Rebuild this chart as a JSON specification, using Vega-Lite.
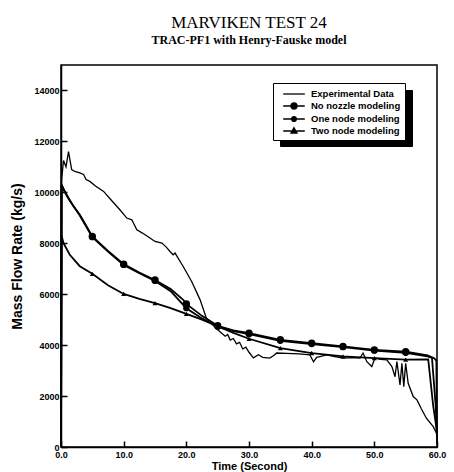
{
  "$schema": "https://vega.github.io/schema/vega-lite/v6.json",
  "autosize": {"type": "none"},
  "padding": {"left": 61, "top": 65, "right": 17, "bottom": 25},
  "width": 376,
  "height": 382,
  "background": "white",
  "config": {
    "view": {"stroke": "black", "strokeWidth": 1.5},
    "font": "Liberation Sans"
  },
  "title": {
    "text": "MARVIKEN TEST 24",
    "subtitle": "TRAC-PF1 with Henry-Fauske model",
    "anchor": "middle",
    "frame": "group",
    "font": "Liberation Serif",
    "fontSize": 17,
    "fontWeight": "normal",
    "color": "black",
    "subtitleFont": "Liberation Serif",
    "subtitleFontSize": 12,
    "subtitleFontWeight": "bold",
    "subtitleColor": "black",
    "subtitlePadding": 3,
    "offset": 18
  },
  "datasets": {
    "curves": [
      {"series": "Experimental Data", "t": 0, "v": 0},
      {"series": "Experimental Data", "t": 0.1, "v": 10500},
      {"series": "Experimental Data", "t": 0.4, "v": 11250},
      {"series": "Experimental Data", "t": 0.8, "v": 11000},
      {"series": "Experimental Data", "t": 1.2, "v": 11600},
      {"series": "Experimental Data", "t": 1.7, "v": 10890},
      {"series": "Experimental Data", "t": 2.2, "v": 10820},
      {"series": "Experimental Data", "t": 3.0, "v": 10760},
      {"series": "Experimental Data", "t": 3.6, "v": 10700},
      {"series": "Experimental Data", "t": 4.0, "v": 10500},
      {"series": "Experimental Data", "t": 4.6, "v": 10430},
      {"series": "Experimental Data", "t": 5.5, "v": 10250},
      {"series": "Experimental Data", "t": 6.8, "v": 10035},
      {"series": "Experimental Data", "t": 8.0, "v": 9700},
      {"series": "Experimental Data", "t": 9.4, "v": 9316},
      {"series": "Experimental Data", "t": 10.5, "v": 8990},
      {"series": "Experimental Data", "t": 11.3, "v": 8923},
      {"series": "Experimental Data", "t": 12.1, "v": 8530},
      {"series": "Experimental Data", "t": 13.0, "v": 8400},
      {"series": "Experimental Data", "t": 14.2, "v": 8204},
      {"series": "Experimental Data", "t": 15.0, "v": 8070},
      {"series": "Experimental Data", "t": 16.1, "v": 8007},
      {"series": "Experimental Data", "t": 16.8, "v": 7850},
      {"series": "Experimental Data", "t": 17.4, "v": 7677},
      {"series": "Experimental Data", "t": 17.9, "v": 7547},
      {"series": "Experimental Data", "t": 18.2, "v": 7613},
      {"series": "Experimental Data", "t": 19.5, "v": 7088},
      {"series": "Experimental Data", "t": 20.85, "v": 6498},
      {"series": "Experimental Data", "t": 22.2, "v": 5778},
      {"series": "Experimental Data", "t": 23.2, "v": 5059},
      {"series": "Experimental Data", "t": 24.0, "v": 4850},
      {"series": "Experimental Data", "t": 24.8, "v": 4650},
      {"series": "Experimental Data", "t": 25.5, "v": 4500},
      {"series": "Experimental Data", "t": 26.2, "v": 4350},
      {"series": "Experimental Data", "t": 26.6, "v": 4420},
      {"series": "Experimental Data", "t": 27.0, "v": 4200},
      {"series": "Experimental Data", "t": 27.5, "v": 4260},
      {"series": "Experimental Data", "t": 28.0, "v": 4050},
      {"series": "Experimental Data", "t": 28.5, "v": 4110},
      {"series": "Experimental Data", "t": 29.0, "v": 3850},
      {"series": "Experimental Data", "t": 29.5, "v": 3920},
      {"series": "Experimental Data", "t": 30.0, "v": 3720},
      {"series": "Experimental Data", "t": 30.7, "v": 3500},
      {"series": "Experimental Data", "t": 31.5, "v": 3620},
      {"series": "Experimental Data", "t": 32.2, "v": 3520},
      {"series": "Experimental Data", "t": 33.3, "v": 3490},
      {"series": "Experimental Data", "t": 34.0, "v": 3600},
      {"series": "Experimental Data", "t": 34.4, "v": 3690},
      {"series": "Experimental Data", "t": 36.0, "v": 3680},
      {"series": "Experimental Data", "t": 38.0, "v": 3660},
      {"series": "Experimental Data", "t": 39.7, "v": 3620},
      {"series": "Experimental Data", "t": 40.3, "v": 3350},
      {"series": "Experimental Data", "t": 40.8, "v": 3520},
      {"series": "Experimental Data", "t": 41.3, "v": 3550},
      {"series": "Experimental Data", "t": 42.4, "v": 3620},
      {"series": "Experimental Data", "t": 43.5, "v": 3560},
      {"series": "Experimental Data", "t": 45.0, "v": 3490},
      {"series": "Experimental Data", "t": 46.5, "v": 3510},
      {"series": "Experimental Data", "t": 47.7, "v": 3490},
      {"series": "Experimental Data", "t": 48.2, "v": 3690},
      {"series": "Experimental Data", "t": 48.8, "v": 3350},
      {"series": "Experimental Data", "t": 49.6, "v": 3160},
      {"series": "Experimental Data", "t": 50.1, "v": 3490},
      {"series": "Experimental Data", "t": 51.0, "v": 3440},
      {"series": "Experimental Data", "t": 52.0, "v": 3420},
      {"series": "Experimental Data", "t": 52.8, "v": 3160},
      {"series": "Experimental Data", "t": 53.3, "v": 2760},
      {"series": "Experimental Data", "t": 53.6, "v": 3350},
      {"series": "Experimental Data", "t": 54.1, "v": 2440},
      {"series": "Experimental Data", "t": 54.4, "v": 3290},
      {"series": "Experimental Data", "t": 54.7, "v": 2370},
      {"series": "Experimental Data", "t": 55.0, "v": 3290},
      {"series": "Experimental Data", "t": 55.4, "v": 2500},
      {"series": "Experimental Data", "t": 56.2, "v": 1980},
      {"series": "Experimental Data", "t": 56.8, "v": 1850},
      {"series": "Experimental Data", "t": 57.5, "v": 1500},
      {"series": "Experimental Data", "t": 58.3, "v": 1130},
      {"series": "Experimental Data", "t": 59.4, "v": 800},
      {"series": "Experimental Data", "t": 60, "v": 500},

      {"series": "No nozzle modeling", "t": 0, "v": 0},
      {"series": "No nozzle modeling", "t": 0.1, "v": 10300},
      {"series": "No nozzle modeling", "t": 0.6, "v": 10040},
      {"series": "No nozzle modeling", "t": 1.2, "v": 9780},
      {"series": "No nozzle modeling", "t": 2.0, "v": 9450},
      {"series": "No nozzle modeling", "t": 3.0, "v": 9120},
      {"series": "No nozzle modeling", "t": 4.0, "v": 8700},
      {"series": "No nozzle modeling", "t": 5, "v": 8270},
      {"series": "No nozzle modeling", "t": 7.5, "v": 7700},
      {"series": "No nozzle modeling", "t": 10, "v": 7180},
      {"series": "No nozzle modeling", "t": 12.5, "v": 6850},
      {"series": "No nozzle modeling", "t": 15, "v": 6560},
      {"series": "No nozzle modeling", "t": 17.5, "v": 6200},
      {"series": "No nozzle modeling", "t": 19.5, "v": 5780},
      {"series": "No nozzle modeling", "t": 20, "v": 5620},
      {"series": "No nozzle modeling", "t": 22.5, "v": 5150},
      {"series": "No nozzle modeling", "t": 25, "v": 4760},
      {"series": "No nozzle modeling", "t": 27.5, "v": 4580},
      {"series": "No nozzle modeling", "t": 30, "v": 4470},
      {"series": "No nozzle modeling", "t": 35, "v": 4210},
      {"series": "No nozzle modeling", "t": 40, "v": 4080},
      {"series": "No nozzle modeling", "t": 45, "v": 3950},
      {"series": "No nozzle modeling", "t": 50, "v": 3810},
      {"series": "No nozzle modeling", "t": 55, "v": 3740},
      {"series": "No nozzle modeling", "t": 58.5, "v": 3600},
      {"series": "No nozzle modeling", "t": 59.6, "v": 3480},
      {"series": "No nozzle modeling", "t": 59.9, "v": 3380},
      {"series": "No nozzle modeling", "t": 60, "v": 150},

      {"series": "One node modeling", "t": 0, "v": 0},
      {"series": "One node modeling", "t": 0.1, "v": 10280},
      {"series": "One node modeling", "t": 0.6, "v": 10010},
      {"series": "One node modeling", "t": 1.2, "v": 9750},
      {"series": "One node modeling", "t": 3.0, "v": 9090},
      {"series": "One node modeling", "t": 5, "v": 8240},
      {"series": "One node modeling", "t": 7.5, "v": 7670},
      {"series": "One node modeling", "t": 10, "v": 7150},
      {"series": "One node modeling", "t": 12.5, "v": 6820},
      {"series": "One node modeling", "t": 15, "v": 6520},
      {"series": "One node modeling", "t": 17.5, "v": 6120},
      {"series": "One node modeling", "t": 20, "v": 5450},
      {"series": "One node modeling", "t": 22.5, "v": 5050},
      {"series": "One node modeling", "t": 25, "v": 4720},
      {"series": "One node modeling", "t": 27.5, "v": 4550},
      {"series": "One node modeling", "t": 30, "v": 4430},
      {"series": "One node modeling", "t": 35, "v": 4170},
      {"series": "One node modeling", "t": 40, "v": 4040},
      {"series": "One node modeling", "t": 45, "v": 3920},
      {"series": "One node modeling", "t": 50, "v": 3790},
      {"series": "One node modeling", "t": 55, "v": 3700},
      {"series": "One node modeling", "t": 58.5, "v": 3560},
      {"series": "One node modeling", "t": 59.2, "v": 3500},
      {"series": "One node modeling", "t": 59.8, "v": 1600},
      {"series": "One node modeling", "t": 60, "v": 300},

      {"series": "Two node modeling", "t": 0, "v": 0},
      {"series": "Two node modeling", "t": 0.1, "v": 8300},
      {"series": "Two node modeling", "t": 0.4, "v": 8000},
      {"series": "Two node modeling", "t": 1.4, "v": 7550},
      {"series": "Two node modeling", "t": 3.0, "v": 7100},
      {"series": "Two node modeling", "t": 5, "v": 6800},
      {"series": "Two node modeling", "t": 7.5, "v": 6350},
      {"series": "Two node modeling", "t": 10, "v": 6010},
      {"series": "Two node modeling", "t": 12.5, "v": 5820},
      {"series": "Two node modeling", "t": 15, "v": 5650},
      {"series": "Two node modeling", "t": 17.5, "v": 5450},
      {"series": "Two node modeling", "t": 20, "v": 5230},
      {"series": "Two node modeling", "t": 22.5, "v": 5000},
      {"series": "Two node modeling", "t": 25, "v": 4740},
      {"series": "Two node modeling", "t": 27.5, "v": 4480},
      {"series": "Two node modeling", "t": 30, "v": 4250},
      {"series": "Two node modeling", "t": 35, "v": 3880},
      {"series": "Two node modeling", "t": 40, "v": 3690},
      {"series": "Two node modeling", "t": 45, "v": 3560},
      {"series": "Two node modeling", "t": 50, "v": 3490},
      {"series": "Two node modeling", "t": 55, "v": 3430},
      {"series": "Two node modeling", "t": 58.6, "v": 3440},
      {"series": "Two node modeling", "t": 59.4, "v": 1600},
      {"series": "Two node modeling", "t": 60, "v": 600}
    ]
  },
  "layer": [
    {
      "data": {"name": "curves"},
      "transform": [{"filter": "datum.series === 'Experimental Data'"}],
      "mark": {"type": "line", "color": "black", "strokeWidth": 1.3},
      "encoding": {
        "x": {
          "field": "t", "type": "quantitative",
          "scale": {"domain": [0, 60], "nice": false, "zero": false},
          "axis": {
            "values": [0, 5, 10, 15, 20, 25, 30, 35, 40, 45, 50, 55, 60],
            "labelExpr": "datum.value % 10 === 0 ? format(datum.value, '.1f') : ''",
            "grid": false,
            "tickSize": -6,
            "tickDash": {"condition": {"test": "datum.value % 10 !== 0", "value": [3, 20]}, "value": []},
            "tickColor": "black",
            "tickWidth": 1.5,
            "zindex": 1,
            "domainColor": "black",
            "domainWidth": 1.5,
            "labelColor": "black",
            "labelFont": "Liberation Sans",
            "labelFontSize": 9,
            "labelFontWeight": "bold",
            "labelPadding": 9,
            "labelFlush": false,
            "title": "Time (Second)",
            "titleColor": "black",
            "titleFont": "Liberation Sans",
            "titleFontSize": 11,
            "titleFontWeight": "bold",
            "titlePadding": 1
          }
        },
        "y": {
          "field": "v", "type": "quantitative",
          "scale": {"domain": [0, 15000], "nice": false},
          "axis": {
            "values": [0, 1000, 2000, 3000, 4000, 5000, 6000, 7000, 8000, 9000, 10000, 11000, 12000, 13000, 14000],
            "labelExpr": "datum.value % 2000 === 0 ? format(datum.value, 'd') : ''",
            "grid": false,
            "tickSize": -6,
            "tickDash": {"condition": {"test": "datum.value % 2000 !== 0", "value": [3, 20]}, "value": []},
            "tickColor": "black",
            "tickWidth": 1.5,
            "zindex": 1,
            "domainColor": "black",
            "domainWidth": 1.5,
            "labelColor": "black",
            "labelFont": "Liberation Sans",
            "labelFontSize": 9,
            "labelFontWeight": "bold",
            "labelPadding": 8,
            "labelFlush": false,
            "title": "Mass Flow Rate (kg/s)",
            "titleColor": "black",
            "titleFont": "Liberation Sans",
            "titleFontSize": 14,
            "titleFontWeight": "bold",
            "titlePadding": 9
          }
        },
        "detail": {"field": "series"}
      }
    },
    {
      "data": {"name": "curves"},
      "transform": [{"filter": "datum.series !== 'Experimental Data'"}],
      "mark": {"type": "line", "color": "black", "strokeWidth": 1.8},
      "encoding": {
        "x": {"field": "t", "type": "quantitative"},
        "y": {"field": "v", "type": "quantitative"},
        "detail": {"field": "series"}
      }
    },
    {
      "data": {"name": "curves"},
      "transform": [{"filter": "datum.series !== 'Experimental Data' && datum.t % 5 === 0 && datum.t > 0 && datum.t < 60"}],
      "mark": {"type": "point", "filled": true, "color": "black", "opacity": 1},
      "encoding": {
        "x": {"field": "t", "type": "quantitative"},
        "y": {"field": "v", "type": "quantitative"},
        "shape": {
          "field": "series", "type": "nominal",
          "scale": {"domain": ["No nozzle modeling", "One node modeling", "Two node modeling"], "range": ["circle", "circle", "triangle-up"]},
          "legend": null
        },
        "size": {
          "field": "series", "type": "nominal",
          "scale": {"domain": ["No nozzle modeling", "One node modeling", "Two node modeling"], "range": [55, 25, 40]},
          "legend": null
        }
      }
    },
    {
      "data": {"values": []},
      "mark": {"type": "point", "filled": true, "color": "black"},
      "encoding": {
        "shape": {
          "field": "series", "type": "nominal",
          "scale": {
            "domain": ["Experimental Data", "No nozzle modeling", "One node modeling", "Two node modeling"],
            "range": [
              "M-1.8,0H1.8",
              "M-1.8,0H1.8M-0.5,0A0.5,0.5 0 1,0 0.5,0A0.5,0.5 0 1,0 -0.5,0Z",
              "M-1.8,0H1.8M-0.4,0A0.4,0.4 0 1,0 0.4,0A0.4,0.4 0 1,0 -0.4,0Z",
              "M-1.8,0H1.8M0,-0.55L0.5,0.35L-0.5,0.35Z"
            ]
          },
          "legend": {
            "title": null,
            "orient": "none",
            "legendX": 212,
            "legendY": 18,
            "zindex": 2,
            "fillColor": "white",
            "strokeColor": "black",
            "padding": 4,
            "rowPadding": 0,
            "symbolSize": 144,
            "symbolFillColor": "black",
            "symbolStrokeColor": "black",
            "symbolStrokeWidth": 1.3,
            "symbolOpacity": 1,
            "symbolOffset": 10,
            "labelOffset": 10,
            "labelFont": "Liberation Sans",
            "labelFontSize": 9.5,
            "labelFontWeight": "bold",
            "labelColor": "black"
          }
        },
        "color": {
          "field": "series", "type": "nominal",
          "scale": {
            "domain": ["Two node modeling", "One node modeling", "No nozzle modeling", "Experimental Data"],
            "range": ["black", "black", "black", "black"]
          },
          "legend": {
            "title": null,
            "orient": "none",
            "legendX": 219,
            "legendY": 25,
            "zindex": 1,
            "fillColor": "black",
            "strokeColor": "black",
            "padding": 4,
            "rowPadding": 0,
            "symbolSize": 144,
            "symbolType": "M-1.8,0H1.8",
            "symbolFillColor": "black",
            "symbolStrokeColor": "black",
            "symbolOffset": 10,
            "labelExpr": "''",
            "labelOffset": 100,
            "labelFontSize": 9.5,
            "labelColor": "black"
          }
        }
      }
    }
  ],
  "resolve": {"scale": {"shape": "independent", "color": "independent", "size": "independent"}}
}
